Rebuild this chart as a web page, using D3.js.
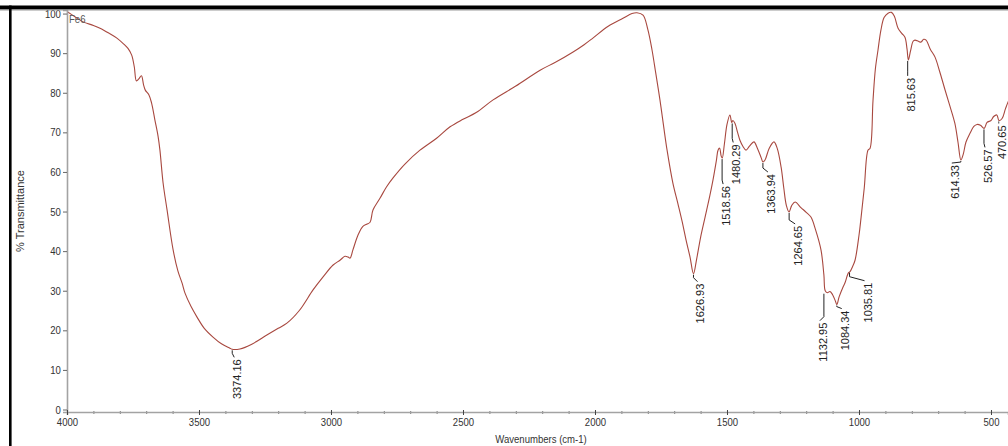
<!DOCTYPE html>
<html><head><meta charset="utf-8">
<script src="https://cdn.jsdelivr.net/npm/d3@7"></script>
<style>
html,body{margin:0;padding:0;background:#fff;}
svg{display:block;font-family:"Liberation Sans",Arial,sans-serif;}
</style></head>
<body>
<svg id="c" width="1008" height="446"></svg>
<script>
// ---------- data ----------
const wavenumbers = [4000,3970,3939,3900,3875,3840,3811,3785,3769,3755,3745,3737,3728,3718,3710,3703,3690,3680,3667,3655,3648,3636,3621,3598,3580,3564,3553,3530,3508,3480,3447,3415,3383,3374,3345,3300,3243,3200,3167,3120,3068,3030,2992,2966,2947,2935,2928,2917,2898,2880,2865,2852,2841,2814,2790,2765,2720,2663,2600,2549,2500,2450,2386,2300,2208,2150,2083,2040,2008,1950,1894,1860,1841,1818,1800,1784,1770,1754,1740,1727,1705,1686,1670,1655,1640,1627,1615,1600,1583,1565,1553,1540,1534,1528,1522,1518,1510,1500,1489,1482,1478,1470,1460,1451,1440,1428,1415,1398,1385,1370,1364,1356,1340,1322,1310,1295,1285,1275,1265,1255,1242,1220,1200,1182,1165,1144,1133,1128,1120,1110,1100,1090,1084,1075,1060,1053,1040,1034,1025,1015,1000,992,980,966,958,947,938,928,917,905,890,877,866,852,838,826,818,813,805,795,788,775,765,755,746,730,712,695,674,655,637,625,614,605,595,580,565,553,540,526,515,500,490,478,470,458,445,430,400];
const transmittance = [100.5,99.2,97.9,97.0,96.3,95.0,93.8,92.3,91.2,89.5,86.5,83.0,83.5,84.3,82.0,80.6,79.5,77.5,73.1,69.0,65.5,57.2,50.4,40.3,35.0,31.9,29.4,26.0,23.4,20.5,18.3,16.6,15.5,15.2,15.3,16.5,18.8,20.5,21.8,25.0,30.2,33.5,36.5,37.7,38.7,38.5,38.2,40.3,44.0,46.2,46.8,47.3,50.4,53.4,56.2,58.5,62.0,65.5,68.5,71.4,73.3,75.0,78.2,81.7,85.7,87.7,90.3,92.2,93.8,96.8,98.8,100.0,100.2,99.6,96.0,90.8,85.0,78.2,71.5,65.5,57.2,52.0,47.5,42.8,38.5,34.3,38.0,43.5,48.6,54.0,58.0,63.0,65.5,66.0,64.0,63.5,67.0,72.0,74.4,72.5,73.0,72.3,70.0,68.0,66.5,65.5,66.5,67.6,66.0,63.5,62.5,63.0,66.0,67.6,66.0,61.2,56.0,51.5,49.9,51.5,52.4,51.0,49.8,48.6,45.5,40.3,34.0,30.0,29.5,29.8,29.0,27.5,26.5,28.5,31.0,32.0,34.5,34.8,36.0,37.7,44.0,48.6,56.0,65.5,66.0,78.0,86.0,90.8,95.8,99.0,100.1,100.3,99.3,96.3,95.0,94.0,91.0,88.3,90.5,93.0,93.3,93.0,92.8,93.5,93.3,91.0,89.0,85.5,80.7,76.5,72.3,67.5,63.0,64.5,67.5,69.7,71.5,72.0,71.8,71.0,72.5,73.0,74.0,74.4,73.0,73.5,76.0,78.5,82.0];

const peakWavenumbers = [3374.16,1626.93,1518.56,1480.29,1363.94,1264.65,1132.95,1084.34,1035.81,815.63,614.33,526.57,470.65];
const peakTransmittance = [15.2,34.3,63.5,72.5,62.5,49.9,29.5,26.5,34.8,88.3,63.0,71.0,73.0];
const peakLabels = peakWavenumbers.map(d => d.toFixed(2));

const xTicks = [4000,3500,3000,2500,2000,1500,1000,500];
const yTicks = [0,10,20,30,40,50,60,70,80,90,100];
const sampleName = "Fe6";
const xTitle = "Wavenumbers (cm-1)";
const yTitle = "% Transmittance";

// annotation layout (pixel drop from peak to label top, horizontal shift)
const labelDrop  = [9,9,27,21,11,13,29,5,10,17,4,20,4];
const labelShift = [5,7,4,4,8,9,-1,8,18,3,-6,4,3];

// ---------- drawing ----------
const svg = d3.select("#c");
const W = 1008, H = 446;
const x = d3.scaleLinear().domain([4000, 435.6]).range([67, 1008]);
const y = d3.scaleLinear().domain([-0.63, 100.9]).range([412, 10]);
const squeeze = "scale(0.87,1)";

// curve
const pts = wavenumbers.map((w,i)=>[w, transmittance[i]]);
svg.append("path")
  .datum(pts)
  .attr("fill","none")
  .attr("stroke","#a8483f")
  .attr("stroke-width",1.1)
  .attr("stroke-linejoin","round")
  .attr("d", d3.line().x(d=>x(d[0])).y(d=>y(d[1])).curve(d3.curveCatmullRom.alpha(0.5)));

// y axis
const gy = svg.append("g").attr("transform","translate(67,0)")
  .call(d3.axisLeft(y).tickValues(yTicks).tickSize(4).tickPadding(3));
gy.select(".domain").attr("stroke","#a3a3a3").attr("stroke-width",1.6);
gy.selectAll(".tick line").attr("stroke","#666");
gy.selectAll(".tick text").attr("fill","#333").attr("font-size",11)
  .attr("font-family","'Liberation Sans',Arial,sans-serif").attr("transform",squeeze);

// x axis minor
const minorTicks = d3.range(4000, 435, -100);
const gxm = svg.append("g").attr("transform","translate(0,412)")
  .call(d3.axisBottom(x).tickValues(minorTicks).tickSize(2).tickFormat(""));
gxm.select(".domain").remove();
gxm.selectAll(".tick line").attr("stroke","#777").attr("y1",-1);

// x axis major
const gx = svg.append("g").attr("transform","translate(0,412)")
  .call(d3.axisBottom(x).tickValues(xTicks).tickSize(3).tickPadding(3).tickFormat(d3.format("d")));
gx.select(".domain").attr("stroke","#a3a3a3").attr("stroke-width",1.6);
gx.selectAll(".tick line").attr("stroke","#444").attr("y1",-2);
gx.selectAll(".tick text").attr("fill","#333").attr("font-size",11)
  .attr("font-family","'Liberation Sans',Arial,sans-serif").attr("transform",squeeze);

// axis titles
svg.append("text").attr("transform",`translate(541,443) ${squeeze}`)
  .attr("text-anchor","middle").attr("font-size",11).attr("fill","#333").text(xTitle);
svg.append("text").attr("transform","translate(24,211) rotate(-90)")
  .attr("text-anchor","middle").attr("font-size",11).attr("fill","#333").text(yTitle);

// sample name
svg.append("text").attr("transform",`translate(69,23) ${squeeze}`)
  .attr("font-size",11).attr("fill","#555").text(sampleName);

// peak labels
peakWavenumbers.forEach((w,i)=>{
  const px = x(w), py = y(peakTransmittance[i]);
  const top = py + labelDrop[i];
  const cx = px + labelShift[i];
  const endX = cx - 3;
  const vEnd = Math.max(py + 2, top - 5);
  svg.append("path")
    .attr("d", `M${px},${py+1}V${vEnd}L${endX},${top-1}`)
    .attr("fill","none").attr("stroke","#222").attr("stroke-width",1);
  svg.append("text")
    .attr("transform",`translate(${cx},${top+1}) rotate(-90)`)
    .attr("text-anchor","end").attr("dy","0.36em")
    .attr("font-size",11).attr("fill","#222").text(peakLabels[i]);
});

// page frame (screenshot edges)
svg.append("rect").attr("x",0).attr("y",5.5).attr("width",W).attr("height",4).attr("fill","#000");
svg.append("rect").attr("x",0).attr("y",9.5).attr("width",W).attr("height",1).attr("fill","#999");
svg.append("rect").attr("x",9).attr("y",5.5).attr("width",2.6).attr("height",H).attr("fill","#000");
</script>
</body></html>
